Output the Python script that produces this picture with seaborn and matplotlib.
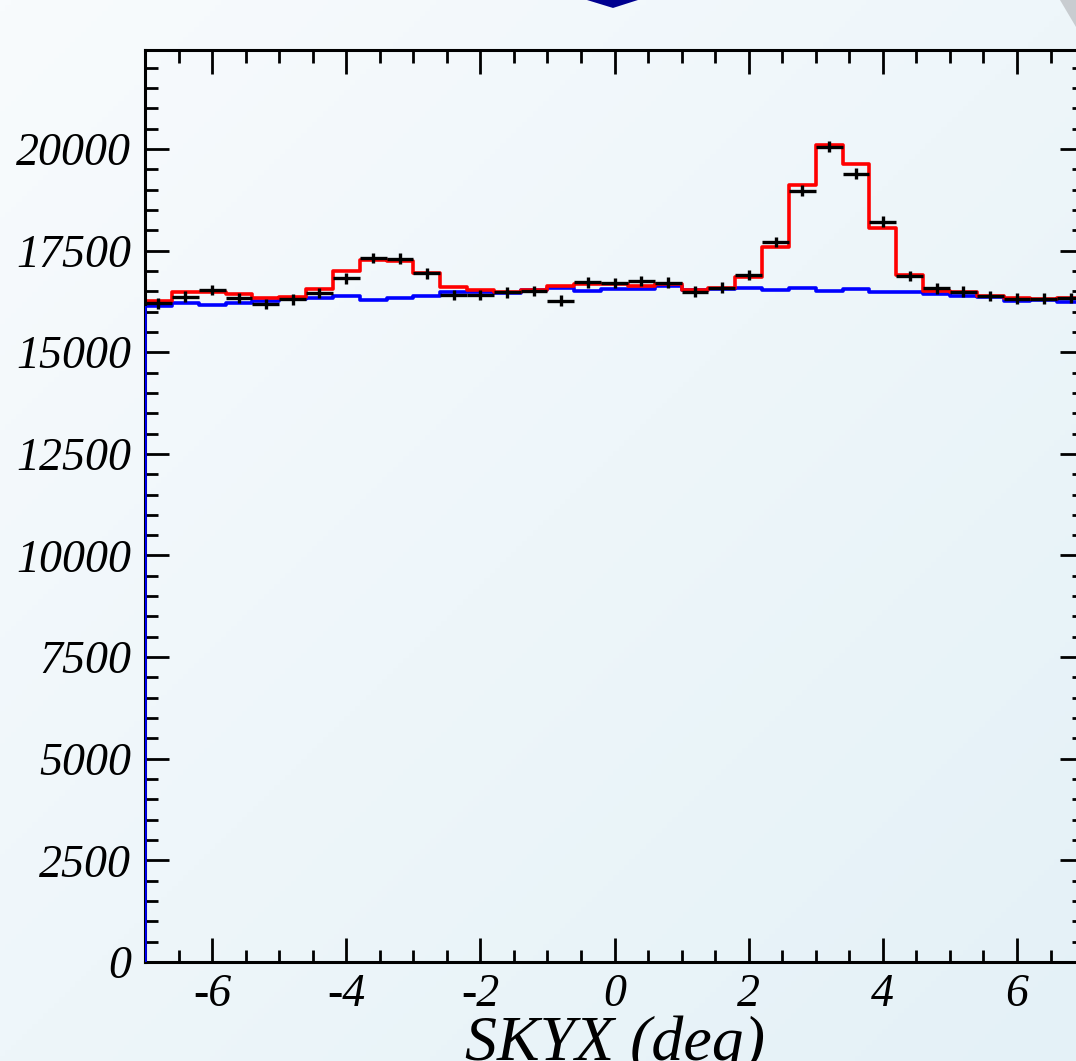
import numpy as np
import pandas as pd
import matplotlib
matplotlib.use('Agg')
import matplotlib.pyplot as plt
import seaborn as sns

# bin edges of the SKYX histogram (35 bins of 0.4 deg)
edges = np.round(np.arange(-7.0, 7.0001, 0.4), 2)
centers = np.round((edges[:-1] + edges[1:]) / 2, 2)

# measured counts (black crosses)
data_counts = [16200, 16370, 16530, 16340, 16180, 16300, 16460, 16820, 17320, 17300,
               16940, 16410, 16410, 16470, 16510, 16270, 16720, 16700, 16750, 16710,
               16490, 16590, 16900, 17710, 18970, 20060, 19390, 18210, 16880, 16570,
               16490, 16390, 16320, 16320, 16330]

# model total (red)
model_total = [16260, 16480, 16480, 16440, 16340, 16370, 16550, 17010, 17270, 17250,
               16940, 16610, 16530, 16470, 16530, 16630, 16690, 16680, 16630, 16680,
               16530, 16570, 16860, 17600, 19110, 20100, 19620, 18050, 16900, 16510,
               16470, 16390, 16330, 16310, 16330]

# background model (blue)
model_bkg = [16140, 16220, 16150, 16220, 16260, 16300, 16330, 16380, 16290, 16330,
             16380, 16470, 16490, 16450, 16530, 16570, 16510, 16550, 16550, 16630,
             16530, 16550, 16590, 16530, 16570, 16510, 16550, 16470, 16470, 16420,
             16390, 16370, 16270, 16290, 16240]

y_ticks = [0, 2500, 5000, 7500, 10000, 12500, 15000, 17500, 20000]
x_ticks = [-6, -4, -2, 0, 2, 4, 6]

df = pd.DataFrame({'skyx': centers, 'data': data_counts,
                   'total': model_total, 'bkg': model_bkg})

sns.set_theme(style='ticks')
plt.rcParams['font.family'] = ['Liberation Serif', 'DejaVu Serif']
plt.rcParams['font.style'] = 'italic'
plt.rcParams['axes.unicode_minus'] = False
plt.rcParams['text.color'] = 'black'
plt.rcParams['axes.labelcolor'] = 'black'
plt.rcParams['xtick.color'] = 'black'
plt.rcParams['ytick.color'] = 'black'

fig = plt.figure(figsize=(10.76, 10.61), dpi=100)

# slide-like gradient background
bg = fig.add_axes([0, 0, 1, 1], zorder=-10)
gx, gy = np.meshgrid(np.linspace(0, 1, 200), np.linspace(0, 1, 200))
grad = (gx + gy) / 2
bg.imshow(grad, cmap=matplotlib.colors.LinearSegmentedColormap.from_list(
    'bg', ['#f8fbfd', '#e4f1f7']), aspect='auto', extent=[0, 1, 0, 1], origin='upper')
bg.fill([0.5455, 0.5697, 0.5929], [1.0, 0.9925, 1.0], color='#000090', lw=0)
bg.fill([0.985, 1.0, 1.0], [1.0, 1.0, 0.975], color='#c8ccd0', lw=0)
bg.set_xlim(0, 1)
bg.set_ylim(0, 1)
bg.axis('off')

ax = fig.add_axes([0.1348, 0.0933, 0.8727, 0.8596])
ax.set_facecolor('none')

# background and total model as step histograms
sns.histplot(data=df, x='skyx', weights='bkg', binwidth=0.4, binrange=(-7, 7),
             element='step', fill=False, color='#0000ff', linewidth=2.6, ax=ax)
sns.histplot(data=df, x='skyx', weights='total', binwidth=0.4, binrange=(-7, 7),
             element='step', fill=False, color='#ff0000', linewidth=2.6, ax=ax)
# background histogram rises from zero at the left edge
ax.vlines(edges[0], 0, model_bkg[0], color='#0000ff', linewidth=2.6, zorder=6)

# data points with bin-width x errors and sqrt(N) y errors
ax.errorbar(df['skyx'], df['data'], xerr=0.2, yerr=np.sqrt(df['data']),
            fmt='none', ecolor='black', elinewidth=2.4, capsize=0, zorder=5)

ax.set_xlim(-7, 7)
ax.set_ylim(0, 22435)
ax.set_xticks(x_ticks)
ax.set_xticks(np.arange(-7, 7.01, 0.5), minor=True)
ax.set_yticks(y_ticks)
ax.set_yticks(np.arange(0, 22001, 500), minor=True)
ax.set_yticklabels([str(v) for v in y_ticks])
ax.set_xticklabels([str(v) for v in x_ticks])

ax.tick_params(which='both', direction='in', top=True, right=True,
               color='black', labelcolor='black', labelsize=33)
ax.tick_params(which='major', length=17, width=2)
ax.tick_params(which='minor', length=9, width=2)
ax.tick_params(axis='x', pad=8)
ax.tick_params(axis='y', pad=10)
for s in ax.spines.values():
    s.set_color('black')
    s.set_linewidth(2.2)

ax.set_ylabel('')
ax.set_xlabel('SKYX (deg)', fontsize=46, color='black')
ax.xaxis.label.set_va('baseline')
ax.xaxis.set_label_coords(0.5005, -0.1075)

fig.savefig('out.png', dpi=100)
